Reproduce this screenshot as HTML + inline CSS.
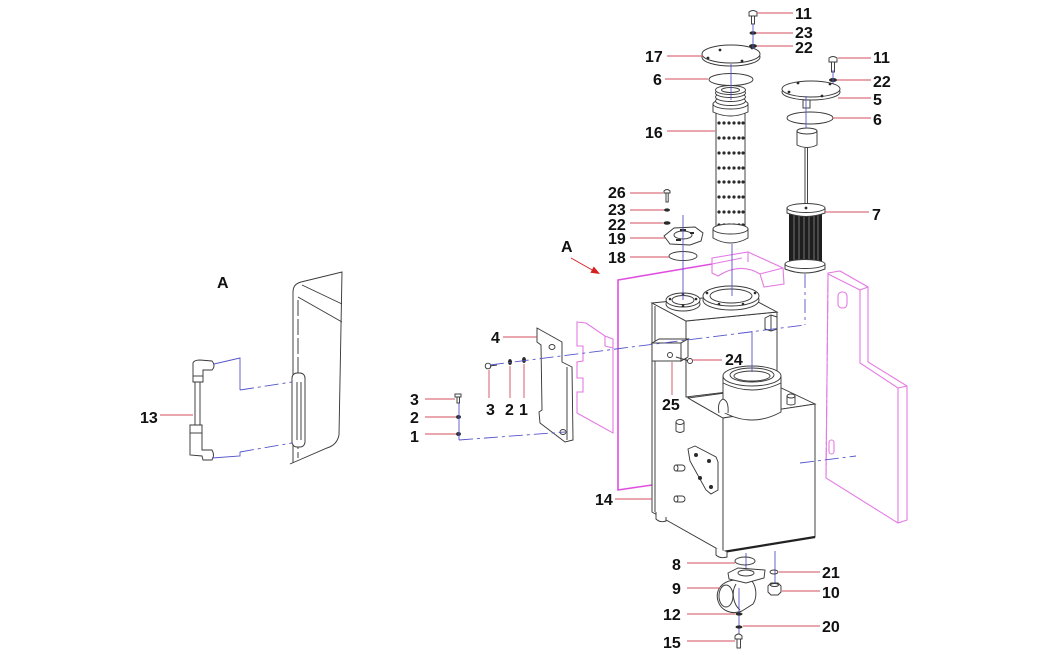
<!DOCTYPE html>
<html><head><meta charset="utf-8">
<style>
html,body{margin:0;padding:0;background:#fff;}
svg{display:block;}
text{font-family:"Liberation Sans",Arial,sans-serif;font-weight:bold;font-size:16px;fill:#111;}
.k{stroke:#3a3a3a;stroke-width:0.95;fill:#fff;}
.kn{stroke:#3a3a3a;stroke-width:0.95;fill:none;}
.bl{stroke:#5555cc;stroke-width:0.9;fill:none;}
.bd{stroke:#5555cc;stroke-width:0.9;fill:none;stroke-dasharray:14 4 3 4;}
.rd{stroke:#d44c5c;stroke-width:0.9;fill:none;}
.mg{stroke:#e47ae4;stroke-width:1.1;fill:#fff;}
.mgn{stroke:#e47ae4;stroke-width:1.1;fill:none;}
.mgd{stroke:#e47ae4;stroke-width:1.1;fill:none;stroke-dasharray:12 3 3 3;}
.dk{fill:#2a2a2a;stroke:none;}
</style></head><body>
<svg width="1044" height="655" viewBox="0 0 1044 655" xmlns="http://www.w3.org/2000/svg">

<!-- ============ LEFT DETAIL VIEW A ============ -->
<text x="217" y="288">A</text>
<path class="kn" d="M293,463 L293,292 Q293,284 301,282 L342,272 L339,435 Q337,445 327,448 L290,464"/>
<line class="kn" x1="302" y1="285" x2="342" y2="304"/>
<line class="kn" x1="298" y1="297" x2="342" y2="322"/>
<line class="kn" x1="298" y1="300" x2="298" y2="458" stroke-dasharray="16 3"/>
<rect class="k" x="292" y="373" width="13" height="74" rx="5"/>
<line class="kn" x1="297" y1="382" x2="297" y2="440"/>
<line class="kn" x1="301" y1="382" x2="301" y2="440"/>
<!-- gauge 13 -->
<rect class="k" x="195" y="380" width="5" height="46"/>
<path class="k" d="M193,363 L193,382 L203,382 L203,370 L212,370 Q216,366 212,361 L200,360 Q194,360 193,363 Z"/>
<line class="kn" x1="193" y1="376" x2="203" y2="376"/>
<path class="k" d="M190,425 L190,455 L202,456 L203,460 L212,460 Q215,455 212,450 L202,450 L202,425 Z"/>
<line class="kn" x1="190" y1="433" x2="202" y2="433"/>
<polyline class="bl" points="214,364 240,358 240,390"/>
<line class="bd" x1="240" y1="390" x2="292" y2="382"/>
<polyline class="bl" points="212,458 240,456 240,452"/>
<line class="bd" x1="240" y1="452" x2="292" y2="443"/>
<line class="rd" x1="160" y1="415" x2="193" y2="415"/>
<text x="140" y="423">13</text>

<!-- ============ MAGENTA PARTS ============ -->
<polyline points="712,264 618,280 618,490 652,485" fill="none" stroke="#e050e0" stroke-width="1.6"/>
<!-- left plate -->
<path class="mg" d="M577,322 L586,323 L605,336 L613,339 L613,433 L577,413 L577,392 L583,392 L583,378 L577,378 L577,362 L583,361 L583,346 L577,346 Z"/>
<line class="mgn" x1="605" y1="336" x2="605" y2="346"/>
<line class="mgn" x1="605" y1="346" x2="613" y2="348"/>
<!-- upper bracket -->
<path class="mg" d="M712,258 L748,252 L783,268 L784,284 L764,287 L760,274 Q740,262 718,276 L712,273 Z"/>
<path class="mgn" d="M748,252 L748,262 M760,274 L783,268 M712,264 L742,258"/>
<!-- right plate -->
<path class="mg" d="M828,273 L840,271 L868,287 L868,362 L907,386 L907,520 L898,523 L826,478 Z"/>
<path class="mgn" d="M828,274 L860,290 L860,363 L898,388 L898,523 M860,290 L868,287 M898,388 L907,386"/>
<line class="mgd" x1="828" y1="280" x2="826" y2="476"/>
<rect class="mgn" x="838" y="292" width="9" height="16" rx="4"/>
<rect class="mgn" x="829" y="440" width="5" height="14" rx="2.5"/>

<!-- ============ TANK 14 ============ -->
<path class="k" d="M652,303 L686,321 L686,393 Q688,398 693,401 L723,418 L723,552 L652,512 Z"/>
<line class="kn" x1="655" y1="306" x2="655" y2="512"/>
<path class="k" d="M686,321 L777,312 L777,386 L686,397 Z"/>
<path class="k" d="M652,303 L743,294 L777,312 L686,321 Z"/>
<path class="k" d="M688,398 L723,418 L815,404 L777,386 Z"/>
<path class="k" d="M723,418 L815,404 L815,537 L723,552 Z"/>
<line x1="723" y1="552" x2="815" y2="537" stroke="#222" stroke-width="2.2"/>
<path class="k" d="M656,512 L656,519 Q660,523 666,521 L666,517"/>
<path class="k" d="M716,548 L716,555 Q720,559 727,557 L727,552"/>
<!-- top rings -->
<ellipse class="k" cx="683" cy="304" rx="17" ry="7"/>
<ellipse class="k" cx="683" cy="300" rx="17" ry="7"/>
<ellipse class="k" cx="683" cy="300" rx="11" ry="4.5"/>
<circle class="dk" cx="670" cy="299" r="1.3"/><circle class="dk" cx="696" cy="299" r="1.3"/><circle class="dk" cx="683" cy="306" r="1.3"/><circle class="dk" cx="683" cy="294" r="1.3"/>
<ellipse class="k" cx="731" cy="300" rx="28" ry="10"/>
<ellipse class="k" cx="731" cy="296" rx="28" ry="10"/>
<ellipse class="k" cx="731" cy="296" rx="21" ry="7"/>
<circle class="dk" cx="707" cy="293" r="1.3"/><circle class="dk" cx="755" cy="293" r="1.3"/><circle class="dk" cx="743" cy="304" r="1.3"/><circle class="dk" cx="719" cy="304" r="1.3"/>
<!-- small box upper right -->
<path class="k" d="M765,318 L771,315 L777,317 L777,329 L771,331 L765,329 Z"/>
<line class="kn" x1="771" y1="315" x2="771" y2="331"/>
<!-- block 24/25 -->
<path class="k" d="M652,343 L659,339 L688,339 L681,343 Z"/>
<rect class="k" x="652" y="343" width="29" height="18"/>
<path class="k" d="M681,343 L688,339 L688,357 L681,361 Z"/>
<circle class="kn" cx="670" cy="355" r="2.5"/>
<line class="kn" x1="676" y1="357" x2="689" y2="361" stroke-width="2.5"/>
<circle class="k" cx="690" cy="361" r="2.5"/>
<!-- neck -->
<path class="k" d="M723,377 L723,412 Q752,428 781,412 L781,377 Z"/>
<ellipse class="k" cx="752" cy="376" rx="29" ry="10"/>
<path class="kn" d="M723,383 Q752,397 781,383" stroke-width="1.6"/>
<ellipse class="k" cx="752" cy="375" rx="22" ry="7"/>
<ellipse class="kn" cx="752" cy="376" rx="18" ry="5"/>
<path class="k" d="M719,413 Q717,402 723,399 Q729,401 728,413"/>
<path class="k" d="M787,396 L787,404 Q791,406 795,404 L795,396"/>
<ellipse class="k" cx="791" cy="396" rx="4" ry="2"/>
<!-- side features -->
<path class="k" d="M676,422 L676,431 Q680,434 684,431 L684,422"/>
<ellipse class="k" cx="680" cy="422" rx="4" ry="2.5"/>
<path class="k" d="M688,449 L695,446 L716,457 L718,462 L718,490 L711,494 L706,490 L690,461 Z"/>
<circle class="dk" cx="696" cy="455" r="2"/><circle class="dk" cx="709" cy="461" r="2"/><circle class="dk" cx="700" cy="478" r="2"/><circle class="dk" cx="711" cy="487" r="2"/>
<rect class="k" x="674" y="465" width="11" height="6" rx="3"/>
<ellipse class="k" cx="676" cy="468" rx="2" ry="3"/>
<rect class="k" x="674" y="496" width="11" height="6" rx="3"/>
<ellipse class="k" cx="676" cy="499" rx="2" ry="3"/>

<!-- ============ BRACKET 4 & SCREWS ============ -->
<path class="k" d="M537,328 L562,342 L562,362 L572,367 L573,440 L565,442 L540,423 L539,412 L542,410 L541,345 L537,342 Z"/>
<line class="kn" x1="567" y1="367" x2="567" y2="440"/>
<ellipse class="k" cx="552" cy="347" rx="3" ry="2.5"/>
<ellipse class="k" cx="563" cy="432" rx="3" ry="2.5"/>
<!-- col screws -->
<rect class="k" x="455" y="394" width="6" height="3"/>
<rect class="k" x="457" y="397" width="2.5" height="6"/>
<ellipse class="dk" cx="458.5" cy="417" rx="2.5" ry="2"/>
<ellipse class="dk" cx="458.5" cy="434" rx="2.5" ry="2"/>
<line class="bl" x1="459" y1="403" x2="459" y2="440"/>
<line class="bd" x1="459" y1="440" x2="565" y2="432"/>
<!-- row screws -->
<circle class="k" cx="488" cy="366" r="2.8"/>
<line class="kn" x1="490" y1="366" x2="497" y2="365" stroke-width="1.8"/>
<ellipse class="dk" cx="510" cy="362" rx="2" ry="3"/>
<ellipse class="dk" cx="524" cy="360" rx="2" ry="3"/>

<!-- ============ FILTER 16 & COVER 17 ============ -->
<rect class="k" x="716" y="112" width="29" height="116"/>
<g class="dk">
<circle cx="719" cy="123" r="1.6"/><circle cx="724" cy="123" r="1.6"/><circle cx="729" cy="123" r="1.6"/><circle cx="734" cy="123" r="1.6"/><circle cx="739" cy="123" r="1.6"/><circle cx="743" cy="123" r="1.6"/>
<circle cx="719" cy="138" r="1.6"/><circle cx="724" cy="138" r="1.6"/><circle cx="729" cy="138" r="1.6"/><circle cx="734" cy="138" r="1.6"/><circle cx="739" cy="138" r="1.6"/><circle cx="743" cy="138" r="1.6"/>
<circle cx="719" cy="153" r="1.6"/><circle cx="724" cy="153" r="1.6"/><circle cx="729" cy="153" r="1.6"/><circle cx="734" cy="153" r="1.6"/><circle cx="739" cy="153" r="1.6"/><circle cx="743" cy="153" r="1.6"/>
<circle cx="719" cy="168" r="1.6"/><circle cx="724" cy="168" r="1.6"/><circle cx="729" cy="168" r="1.6"/><circle cx="734" cy="168" r="1.6"/><circle cx="739" cy="168" r="1.6"/><circle cx="743" cy="168" r="1.6"/>
<circle cx="719" cy="182" r="1.6"/><circle cx="724" cy="182" r="1.6"/><circle cx="729" cy="182" r="1.6"/><circle cx="734" cy="182" r="1.6"/><circle cx="739" cy="182" r="1.6"/><circle cx="743" cy="182" r="1.6"/>
<circle cx="719" cy="197" r="1.6"/><circle cx="724" cy="197" r="1.6"/><circle cx="729" cy="197" r="1.6"/><circle cx="734" cy="197" r="1.6"/><circle cx="739" cy="197" r="1.6"/><circle cx="743" cy="197" r="1.6"/>
<circle cx="719" cy="212" r="1.6"/><circle cx="724" cy="212" r="1.6"/><circle cx="729" cy="212" r="1.6"/><circle cx="734" cy="212" r="1.6"/><circle cx="739" cy="212" r="1.6"/><circle cx="743" cy="212" r="1.6"/>
<circle cx="719" cy="225" r="1.6"/><circle cx="724" cy="225" r="1.6"/><circle cx="729" cy="225" r="1.6"/><circle cx="734" cy="225" r="1.6"/><circle cx="739" cy="225" r="1.6"/><circle cx="743" cy="225" r="1.6"/>
</g>
<path class="k" d="M713,229 L713,238 Q730.5,248 748,238 L748,229 Z"/>
<ellipse class="k" cx="730.5" cy="229" rx="17.5" ry="5"/>
<path class="k" d="M713,104 L713,112 Q730.5,120 748,112 L748,104 Z"/>
<ellipse class="k" cx="730.5" cy="104" rx="17.5" ry="5"/>
<ellipse class="k" cx="730.5" cy="101" rx="15" ry="4.5" stroke-width="2" stroke="#444"/>
<ellipse class="k" cx="730.5" cy="97" rx="15" ry="4.5" stroke-width="2" stroke="#444"/>
<ellipse class="k" cx="730.5" cy="93" rx="15" ry="4.5" stroke-width="2" stroke="#444"/>
<ellipse class="k" cx="730.5" cy="90" rx="15" ry="4.5" stroke-width="1.6" stroke="#444"/>
<ellipse class="kn" cx="730.5" cy="90" rx="9" ry="2.5" stroke-width="1.6"/>
<!-- ring 6 left -->
<ellipse class="kn" cx="731" cy="79.5" rx="22" ry="6" stroke-width="1.7"/>
<!-- cover 17 -->
<ellipse class="k" cx="731" cy="57" rx="29" ry="9"/>
<ellipse class="k" cx="731" cy="54" rx="29" ry="9"/>
<circle class="dk" cx="720" cy="50" r="1.4"/><circle class="dk" cx="752" cy="48" r="1.4"/><circle class="dk" cx="708" cy="58" r="1.4"/><circle class="dk" cx="742" cy="61" r="1.4"/>
<!-- screw 11 / washers -->
<path class="k" d="M749,12 Q753,9 757,12 L757,16 L749,16 Z"/>
<rect class="k" x="751.5" y="16" width="3" height="8"/>
<ellipse class="dk" cx="753" cy="33" rx="3.5" ry="1.8"/>
<ellipse class="dk" cx="753" cy="46" rx="4" ry="2"/>
<line class="bl" x1="753" y1="24" x2="753" y2="49"/>
<line class="bl" x1="731" y1="64" x2="731" y2="100"/>
<line class="bl" x1="732" y1="244" x2="732" y2="296"/>

<!-- ============ COVER 5 / SENSOR / FILTER 7 ============ -->
<path class="k" d="M829,58 Q833,55 837,58 L837,62 L829,62 Z"/>
<rect class="k" x="831.5" y="62" width="3" height="10"/>
<ellipse class="dk" cx="833" cy="80" rx="4" ry="2"/>
<line class="bl" x1="833" y1="70" x2="833" y2="84"/>
<ellipse class="k" cx="811" cy="92" rx="29" ry="8"/>
<ellipse class="k" cx="811" cy="89" rx="29" ry="8"/>
<circle class="dk" cx="798" cy="83" r="1.4"/><circle class="dk" cx="830" cy="84" r="1.4"/><circle class="dk" cx="789" cy="92" r="1.4"/><circle class="dk" cx="822" cy="96" r="1.4"/>
<rect class="k" x="803" y="100" width="7" height="8"/>
<ellipse class="kn" cx="810" cy="118" rx="23" ry="6" stroke-width="1.7"/>
<path class="k" d="M797,131 L797,145 Q807,150 817,145 L817,131 Z"/>
<ellipse class="k" cx="807" cy="131" rx="10" ry="3"/>
<line class="kn" x1="805" y1="148" x2="805" y2="207"/>
<line class="kn" x1="807.5" y1="148" x2="807.5" y2="207"/>
<line class="bl" x1="806" y1="96" x2="806" y2="128"/>
<!-- filter 7 -->
<rect x="789" y="212" width="33" height="52" fill="#1e1e1e"/>
<g stroke="#8a8a8a" stroke-width="0.8">
<line x1="794" y1="214" x2="794" y2="262"/><line x1="799" y1="214" x2="799" y2="262"/><line x1="804" y1="214" x2="804" y2="262"/><line x1="809" y1="214" x2="809" y2="262"/><line x1="814" y1="214" x2="814" y2="262"/><line x1="818" y1="214" x2="818" y2="262"/>
</g>
<path class="k" d="M787,208 L787,213 Q806,220 825,213 L825,208 Z"/>
<ellipse class="k" cx="806" cy="208" rx="19" ry="4.5"/>
<circle class="dk" cx="806" cy="208" r="1.4"/>
<path class="k" d="M785,264 L785,269 Q805,277 825,269 L825,264 Z"/>
<ellipse class="k" cx="805" cy="264" rx="20" ry="4.5"/>
<line class="bd" x1="805" y1="274" x2="805" y2="325"/>

<!-- ============ LEFT SMALL PARTS 26/23/22/19/18 ============ -->
<path class="k" d="M664,191 Q667,188 670,191 L670,193 L664,193 Z"/>
<rect class="k" x="666" y="193" width="2.2" height="9"/>
<ellipse class="dk" cx="667" cy="210" rx="3" ry="1.6"/>
<ellipse class="dk" cx="667" cy="223" rx="3.5" ry="1.8"/>
<path class="k" d="M664,236 L674,228 L695,227 L703,233 L701,241 L690,245 L670,244 Z"/>
<ellipse class="kn" cx="683" cy="235" rx="9" ry="4"/>
<rect class="dk" x="680" y="229" width="6" height="2"/>
<rect class="dk" x="676" y="239" width="5" height="2"/>
<rect class="dk" x="690" y="232" width="4" height="2"/>
<ellipse class="kn" cx="683" cy="256" rx="14" ry="4.5" stroke-width="1.6"/>
<line class="bl" x1="683" y1="215" x2="683" y2="300"/>

<!-- ============ BOTTOM PARTS ============ -->
<line class="bl" x1="746" y1="553" x2="746" y2="572"/>
<line class="bl" x1="775" y1="551" x2="775" y2="585"/>
<ellipse class="kn" cx="745" cy="561" rx="10" ry="4" stroke-width="1.6"/>
<path class="k" d="M735,580 C721,581 715,591 718,601 C721,611 732,615 742,611 L753,604 C757,598 757,588 752,581 Z"/>
<ellipse class="k" cx="726" cy="596" rx="7" ry="11"/>
<path class="kn" d="M736,584 C731,592 733,604 740,610"/>
<path class="k" d="M728,573 L738,568 L765,570 L764,578 L746,583 L729,579 Z"/>
<ellipse class="kn" cx="746" cy="573" rx="8" ry="3"/>
<line class="bl" x1="739" y1="588" x2="739" y2="637"/>
<ellipse class="dk" cx="739" cy="614" rx="3.5" ry="1.6"/>
<ellipse class="dk" cx="739" cy="627" rx="3.5" ry="1.6"/>
<path class="k" d="M735,636 Q738.5,632 742,636 L742,639 L735,639 Z"/>
<rect class="k" x="737" y="639" width="3.5" height="9"/>
<ellipse class="kn" cx="774" cy="572" rx="4" ry="2" stroke-width="1.4"/>
<path class="k" d="M768,586 L771,583 L778,583 L781,586 L781,592 L778,595 L771,595 L768,592 Z"/>
<ellipse class="kn" cx="774.5" cy="585" rx="4" ry="1.5"/>

<!-- ============ DASHED CENTER LINES ============ -->
<line class="bd" x1="490" y1="365" x2="805" y2="325"/>
<line class="bl" x1="752" y1="331" x2="752" y2="372"/>
<line class="bd" x1="800" y1="463" x2="856" y2="456"/>

<!-- ============ ARROW A ============ -->
<line x1="571" y1="258" x2="594" y2="271" stroke="#d42020" stroke-width="1"/>
<polygon points="600,274 590.4,272.7 593.8,266.5" fill="#d42020"/>
<text x="561" y="252">A</text>

<!-- ============ LEADERS (red) ============ -->
<g class="rd">
<line x1="757" y1="13" x2="793" y2="13"/>
<line x1="756" y1="33" x2="793" y2="33"/>
<line x1="757" y1="46" x2="793" y2="46"/>
<line x1="667" y1="56" x2="703" y2="56"/>
<line x1="665" y1="79" x2="708" y2="79"/>
<line x1="667" y1="131" x2="715" y2="131"/>
<line x1="838" y1="58" x2="871" y2="58"/>
<line x1="837" y1="80" x2="871" y2="80"/>
<line x1="838" y1="98" x2="871" y2="98"/>
<line x1="833" y1="118" x2="871" y2="118"/>
<line x1="825" y1="212" x2="869" y2="212"/>
<line x1="630" y1="193" x2="663" y2="193"/>
<line x1="630" y1="210" x2="664" y2="210"/>
<line x1="630" y1="223" x2="663" y2="223"/>
<line x1="630" y1="238" x2="665" y2="238"/>
<line x1="630" y1="257" x2="669" y2="257"/>
<line x1="503" y1="337" x2="537" y2="337"/>
<line x1="425" y1="399" x2="455" y2="399"/>
<line x1="425" y1="417" x2="456" y2="417"/>
<line x1="425" y1="434" x2="456" y2="434"/>
<line x1="489" y1="370" x2="489" y2="398"/>
<line x1="510" y1="366" x2="510" y2="398"/>
<line x1="524" y1="364" x2="524" y2="398"/>
<line x1="672" y1="362" x2="672" y2="395"/>
<line x1="692" y1="360" x2="722" y2="360"/>
<line x1="615" y1="499" x2="652" y2="499"/>
<line x1="687" y1="563" x2="735" y2="563"/>
<line x1="687" y1="588" x2="720" y2="588"/>
<line x1="687" y1="614" x2="735" y2="614"/>
<line x1="743" y1="626" x2="820" y2="626"/>
<line x1="687" y1="641" x2="735" y2="641"/>
<line x1="779" y1="572" x2="820" y2="572"/>
<line x1="782" y1="591" x2="820" y2="591"/>
</g>

<!-- ============ LABELS ============ -->
<text x="795" y="19">11</text>
<text x="795" y="38">23</text>
<text x="795" y="53">22</text>
<text x="645" y="62">17</text>
<text x="653" y="85">6</text>
<text x="645" y="138">16</text>
<text x="873" y="63">11</text>
<text x="873" y="87">22</text>
<text x="873" y="105">5</text>
<text x="873" y="125">6</text>
<text x="872" y="220">7</text>
<text x="608" y="198">26</text>
<text x="608" y="215">23</text>
<text x="608" y="230">22</text>
<text x="608" y="244">19</text>
<text x="608" y="263">18</text>
<text x="491" y="343">4</text>
<text x="410" y="405">3</text>
<text x="410" y="423">2</text>
<text x="410" y="442">1</text>
<text x="486" y="415">3</text>
<text x="505" y="415">2</text>
<text x="519" y="415">1</text>
<text x="662" y="410">25</text>
<text x="725" y="365">24</text>
<text x="595" y="505">14</text>
<text x="672" y="570">8</text>
<text x="672" y="594">9</text>
<text x="663" y="620">12</text>
<text x="663" y="648">15</text>
<text x="822" y="578">21</text>
<text x="822" y="598">10</text>
<text x="822" y="632">20</text>
</svg>
</body></html>
